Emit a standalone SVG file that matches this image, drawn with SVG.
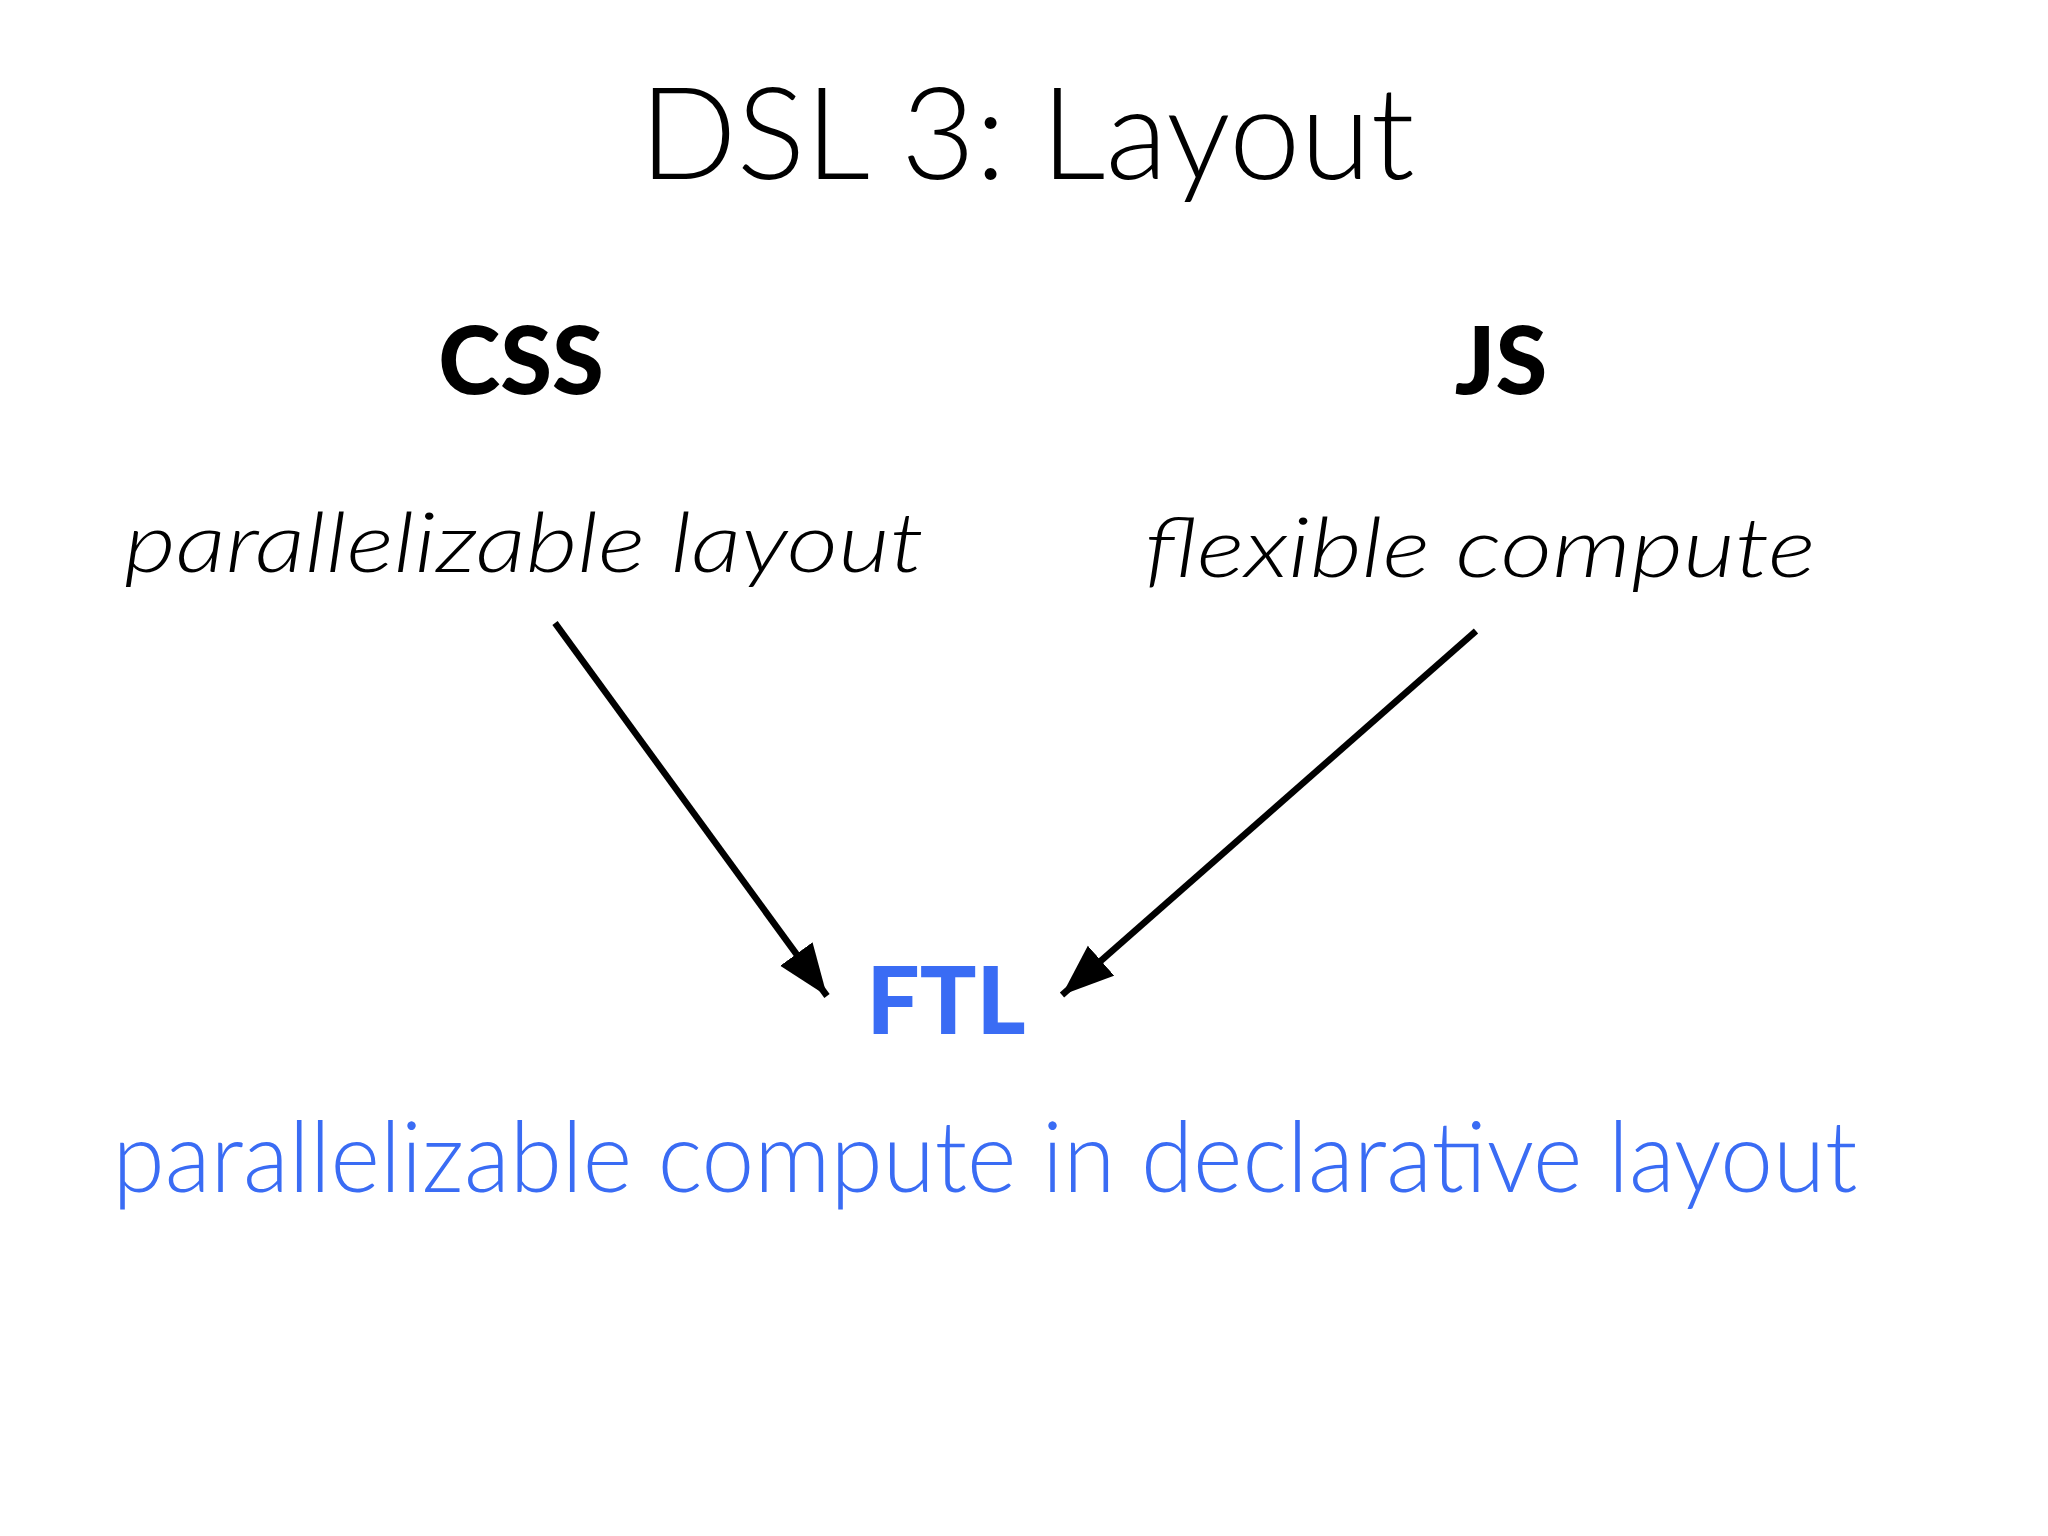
<svg xmlns="http://www.w3.org/2000/svg" width="2048" height="1536" viewBox="0 0 2048 1536">
<style>
.t{font-family:Lato,"Open Sans","Liberation Sans",sans-serif;text-anchor:middle}
.title{font-size:128px;font-weight:300;fill:#000}
.h{font-size:94px;font-weight:900;fill:#000}
.it{font-size:82px;font-style:italic;font-weight:300;fill:#000}
.blue{fill:#3a6cf4}
.edge{stroke:#000;stroke-width:6.5;fill:none}
</style>
<defs>
<marker id="ah" markerUnits="userSpaceOnUse" markerWidth="60" markerHeight="50" refX="52" refY="20" orient="auto">
<path d="M0,0 L52,20 L0,40 Z" fill="#000"/>
</marker>
</defs>
<rect width="2048" height="1536" fill="#fff"/>
<g id="title"><text class="t title" x="1027" y="179">DSL 3: Layout</text></g>
<g id="css"><text class="t h" x="521" y="394">CSS</text>
<text class="t it" x="524" y="572" textLength="800" lengthAdjust="spacingAndGlyphs">parallelizable layout</text></g>
<g id="js"><text class="t h" x="1501" y="394">JS</text>
<text class="t it" x="1480" y="577" textLength="671" lengthAdjust="spacingAndGlyphs">flexible compute</text></g>
<g id="ftl"><text class="t h blue" x="946" y="1034">FTL</text>
<text class="t blue" style="font-size:98px;font-weight:300" x="985" y="1192" textLength="1745" lengthAdjust="spacingAndGlyphs">parallelizable compute in declarative layout</text></g>
<g id="connectors">
<line class="edge" x1="555" y1="623" x2="827" y2="996" marker-end="url(#ah)"/>
<line class="edge" x1="1476" y1="631" x2="1062" y2="995" marker-end="url(#ah)"/>
</g>
</svg>
